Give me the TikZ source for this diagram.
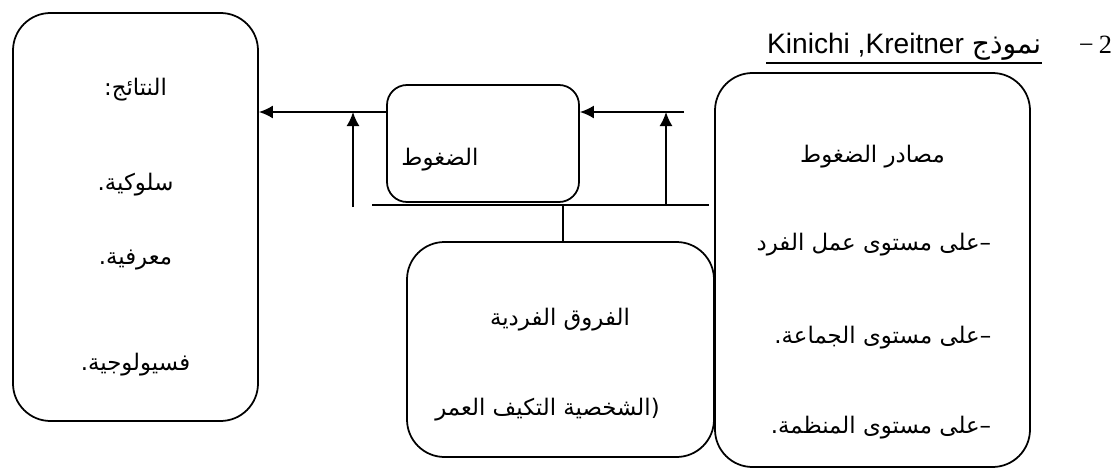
\documentclass[tikz,border=0pt]{standalone}
\usepackage{fontspec}
\setmainfont{Liberation Serif}
\newfontfamily\arabicfont[Script=Arabic]{DejaVu Sans}
\newfontfamily\latinsans{Liberation Sans}
\TeXXeTstate=1
\usetikzlibrary{arrows.meta}
\newcommand{\artxt}[1]{{\arabicfont\beginR #1\endR}}

\begin{document}
\begin{tikzpicture}[>={Latex[length=2.8mm,width=2.6mm]}, line width=1pt,
  bigbox/.style={draw, rounded corners=0.75cm, line width=1pt},
  smallbox/.style={draw, rounded corners=0.4cm, line width=1pt},
  artext/.style={font=\fontsize{13}{15}\selectfont, inner sep=0pt}]
\useasboundingbox (0,0) rectangle (22.32,-9.38);
% boxes
\node[bigbox, minimum width=4.9cm, minimum height=8.16cm] (res) at (2.71,-4.34) {};
\node[smallbox, minimum width=3.84cm, minimum height=2.34cm] (str) at (9.66,-2.87) {};
\node[bigbox, minimum width=6.14cm, minimum height=4.3cm] (dif) at (11.21,-6.99) {};
\node[bigbox, minimum width=6.3cm, minimum height=7.88cm] (src) at (17.45,-5.4) {};
% title
\node[anchor=base east, inner sep=0pt, font=\fontsize{16}{18}\latinsans] (title) at (20.84,-1.06) {Kinichi ,Kreitner \artxt{نموذج}};
\node[anchor=base east, inner sep=0pt, font=\fontsize{15}{17}\selectfont] (num) at (22.26,-1.06) {−\hspace{3pt}2};
\coordinate (ul) at (0,-1.26);
\draw[line width=0.9pt] (title.west |- ul) -- (title.east |- ul);
% texts
\node[artext] (r1) at (2.71,-1.8) {\artxt{النتائج:}};
\node[artext] (r2) at (2.71,-3.7) {\artxt{سلوكية.}};
\node[artext] (r3) at (2.71,-5.2) {\artxt{معرفية.}};
\node[artext] (r4) at (2.71,-7.3) {\artxt{فسيولوجية.}};
\node[artext] (s1) at (8.8,-3.2) {\artxt{الضغوط}};
\node[artext] (d1) at (11.2,-6.4) {\artxt{الفروق الفردية}};
\node[artext] (d2) at (10.95,-8.2) {\artxt{(الشخصية التكيف العمر}};
\node[artext] (m1) at (17.45,-3.14) {\artxt{مصادر الضغوط}};
\node[artext, anchor=east] (m2) at (19.84,-4.9) {\artxt{–على مستوى عمل الفرد}};
\node[artext, anchor=east] (m3) at (19.84,-6.76) {\artxt{–على مستوى الجماعة.}};
\node[artext, anchor=east] (m4) at (19.84,-8.56) {\artxt{–على مستوى المنظمة.}};
% connectors
\coordinate (ltop) at (7.06,-2.24);
\coordinate (lfoot) at (7.06,-4.14);
\coordinate (rend) at (13.68,-2.24);
\coordinate (rfoot) at (13.32,-4.1);
\coordinate (bl) at (7.44,-4.1);
\coordinate (br) at (14.18,-4.1);
\draw[->] (str.west |- ltop) -- (res.east |- ltop);
\draw[->] (lfoot) -- (ltop);
\draw[->] (rend) -- (str.east |- rend);
\draw[->] (rfoot) -- (rfoot |- rend);
\draw (bl) -- (br);
\draw (dif.north -| 11.26,0) -- (11.26,-4.1);
\end{tikzpicture}
\end{document}
